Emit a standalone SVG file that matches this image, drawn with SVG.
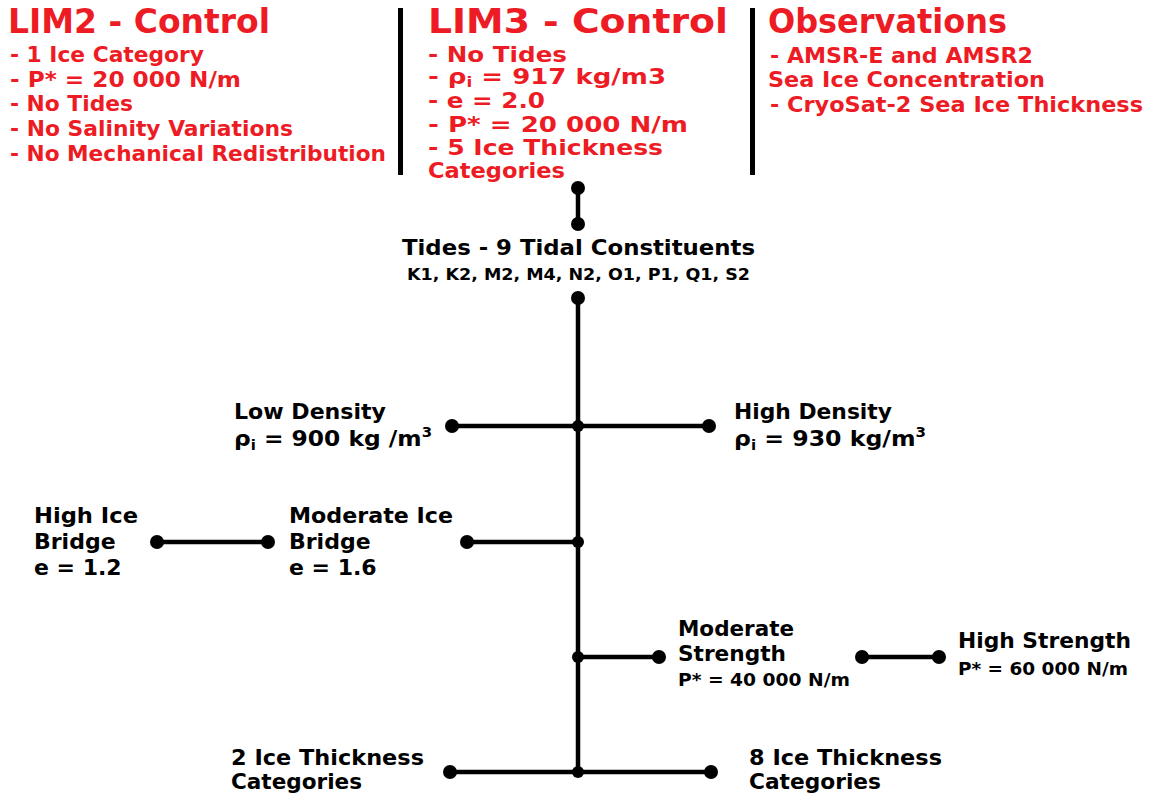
<svg xmlns="http://www.w3.org/2000/svg" width="1156" height="797" viewBox="0 0 1156 797">
<style>
text{font-family:"DejaVu Sans","Verdana",sans-serif;font-weight:bold}
.red{fill:#ED1C24}
.blk{fill:#000}
.title{font-size:33px}
.item{font-size:21.5px}
.lbl{font-size:22px}
.sm{font-size:17.5px}
.sub{font-size:14px}
.bar{fill:#000}
.con line{stroke:#000;stroke-width:4.5}
.con circle{fill:#000}
</style>
<rect width="1156" height="797" fill="#fff"/>
<g id="lim2">
<text class="red title" x="8" y="33" textLength="262" lengthAdjust="spacingAndGlyphs">LIM2 - Control</text>
<text class="red item" x="10" y="62" textLength="194" lengthAdjust="spacingAndGlyphs">- 1 Ice Category</text>
<text class="red item" x="10" y="87" textLength="231" lengthAdjust="spacingAndGlyphs">- P* = 20 000 N/m</text>
<text class="red item" x="10" y="111" textLength="123" lengthAdjust="spacingAndGlyphs">- No Tides</text>
<text class="red item" x="10" y="136" textLength="283" lengthAdjust="spacingAndGlyphs">- No Salinity Variations</text>
<text class="red item" x="10" y="161" textLength="376" lengthAdjust="spacingAndGlyphs">- No Mechanical Redistribution</text>
</g>
<rect class="bar" x="398" y="8" width="5" height="167"/>
<g id="lim3">
<text class="red title" x="428" y="33" textLength="300" lengthAdjust="spacingAndGlyphs">LIM3 - Control</text>
<text class="red item" x="428" y="62" textLength="139" lengthAdjust="spacingAndGlyphs">- No Tides</text>
<text class="red item" x="428" y="84" textLength="238" lengthAdjust="spacingAndGlyphs">- ρ<tspan class="sub" dy="3">i</tspan><tspan dy="-3"> = 917 kg/m3</tspan></text>
<text class="red item" x="428" y="108" textLength="117" lengthAdjust="spacingAndGlyphs">- e = 2.0</text>
<text class="red item" x="428" y="132" textLength="260" lengthAdjust="spacingAndGlyphs">- P* = 20 000 N/m</text>
<text class="red item" x="428" y="155" textLength="235" lengthAdjust="spacingAndGlyphs">- 5 Ice Thickness</text>
<text class="red item" x="428" y="178" textLength="137" lengthAdjust="spacingAndGlyphs">Categories</text>
</g>
<rect class="bar" x="750" y="8" width="5" height="167"/>
<g id="observations">
<text class="red title" x="768" y="33" textLength="239" lengthAdjust="spacingAndGlyphs">Observations</text>
<text class="red item" x="770" y="63" textLength="263" lengthAdjust="spacingAndGlyphs">- AMSR-E and AMSR2</text>
<text class="red item" x="768" y="87" textLength="277" lengthAdjust="spacingAndGlyphs">Sea Ice Concentration</text>
<text class="red item" x="770" y="112" textLength="373" lengthAdjust="spacingAndGlyphs">- CryoSat-2 Sea Ice Thickness</text>
</g>
<g id="connectors" class="con">
<line x1="578" y1="188" x2="578" y2="224"/>
<line x1="578" y1="298" x2="578" y2="772"/>
<line x1="452" y1="426" x2="709" y2="426"/>
<line x1="157" y1="542" x2="268" y2="542"/>
<line x1="467" y1="542" x2="578" y2="542"/>
<line x1="578" y1="657" x2="659" y2="657"/>
<line x1="862" y1="657" x2="939" y2="657"/>
<line x1="450" y1="772" x2="711" y2="772"/>
<circle cx="578" cy="188" r="7"/>
<circle cx="578" cy="224" r="7"/>
<circle cx="578" cy="298" r="7"/>
<circle cx="578" cy="426" r="6"/>
<circle cx="452" cy="426" r="7"/>
<circle cx="709" cy="426" r="7"/>
<circle cx="157" cy="542" r="7"/>
<circle cx="268" cy="542" r="7"/>
<circle cx="467" cy="542" r="7"/>
<circle cx="578" cy="542" r="6"/>
<circle cx="578" cy="657" r="6"/>
<circle cx="659" cy="657" r="7"/>
<circle cx="862" cy="657" r="7"/>
<circle cx="939" cy="657" r="7"/>
<circle cx="450" cy="772" r="7"/>
<circle cx="578" cy="772" r="6"/>
<circle cx="711" cy="772" r="7"/>
</g>
<g id="tides">
<text class="blk item" x="402" y="255" textLength="353" lengthAdjust="spacingAndGlyphs">Tides - 9 Tidal Constituents</text>
<text class="blk" x="407" y="280" style="font-size:16.5px" textLength="343" lengthAdjust="spacingAndGlyphs">K1, K2, M2, M4, N2, O1, P1, Q1, S2</text>
</g>
<g id="low-density">
<text class="blk lbl" x="234" y="419" textLength="152" lengthAdjust="spacingAndGlyphs">Low Density</text>
<text class="blk lbl" x="234" y="446" textLength="198" lengthAdjust="spacingAndGlyphs">ρ<tspan class="sub" dy="4">i</tspan><tspan dy="-4"> = 900 kg /m</tspan><tspan class="sub" dy="-9">3</tspan></text>
</g>
<g id="high-density">
<text class="blk lbl" x="734" y="419" textLength="158" lengthAdjust="spacingAndGlyphs">High Density</text>
<text class="blk lbl" x="734" y="446" textLength="192" lengthAdjust="spacingAndGlyphs">ρ<tspan class="sub" dy="4">i</tspan><tspan dy="-4"> = 930 kg/m</tspan><tspan class="sub" dy="-9">3</tspan></text>
</g>
<g id="high-ice-bridge">
<text class="blk lbl" x="34" y="523" textLength="104" lengthAdjust="spacingAndGlyphs">High Ice</text>
<text class="blk lbl" x="34" y="549">Bridge</text>
<text class="blk lbl" x="34" y="575">e = 1.2</text>
</g>
<g id="moderate-ice-bridge">
<text class="blk lbl" x="289" y="523" textLength="164" lengthAdjust="spacingAndGlyphs">Moderate Ice</text>
<text class="blk lbl" x="289" y="549">Bridge</text>
<text class="blk lbl" x="289" y="575">e = 1.6</text>
</g>
<g id="moderate-strength">
<text class="blk lbl" x="678" y="636" textLength="116" lengthAdjust="spacingAndGlyphs">Moderate</text>
<text class="blk lbl" x="678" y="661" textLength="108" lengthAdjust="spacingAndGlyphs">Strength</text>
<text class="blk sm" x="678" y="686" textLength="172" lengthAdjust="spacingAndGlyphs">P* = 40 000 N/m</text>
</g>
<g id="high-strength">
<text class="blk lbl" x="958" y="648" textLength="173" lengthAdjust="spacingAndGlyphs">High Strength</text>
<text class="blk sm" x="958" y="675" textLength="170" lengthAdjust="spacingAndGlyphs">P* = 60 000 N/m</text>
</g>
<g id="two-categories">
<text class="blk lbl" x="231" y="765" textLength="193" lengthAdjust="spacingAndGlyphs">2 Ice Thickness</text>
<text class="blk lbl" x="231" y="789" textLength="131" lengthAdjust="spacingAndGlyphs">Categories</text>
</g>
<g id="eight-categories">
<text class="blk lbl" x="749" y="765" textLength="193" lengthAdjust="spacingAndGlyphs">8 Ice Thickness</text>
<text class="blk lbl" x="749" y="789" textLength="132" lengthAdjust="spacingAndGlyphs">Categories</text>
</g>
</svg>
